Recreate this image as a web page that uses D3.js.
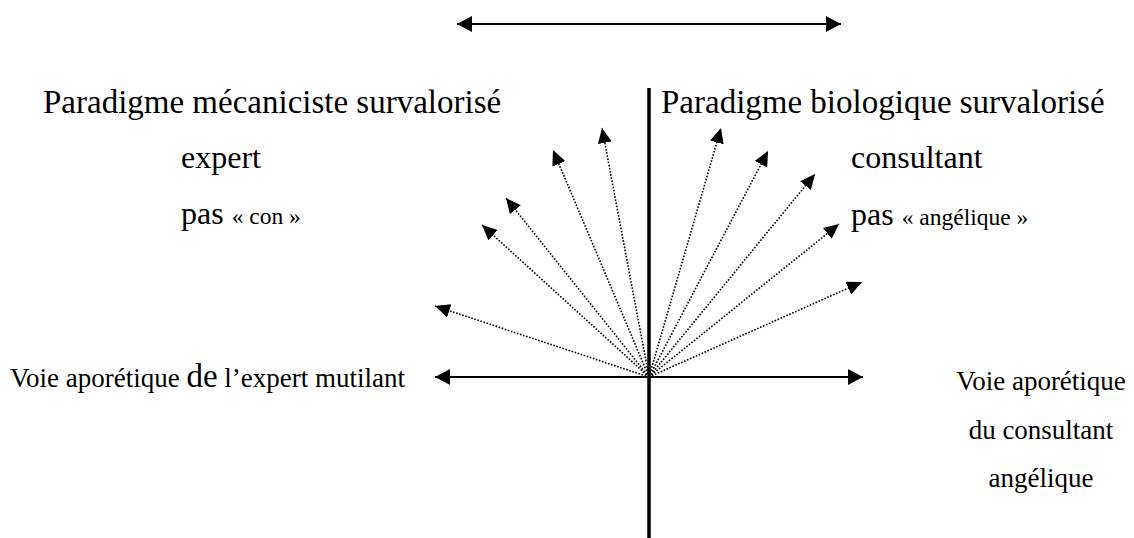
<!DOCTYPE html>
<html>
<head>
<meta charset="utf-8">
<script src="https://cdn.jsdelivr.net/npm/d3@7"></script>
<style>
  html, body { margin: 0; padding: 0; background: #fff; }
  svg { display: block; }
  text { font-family: "Liberation Serif", "Times New Roman", serif; fill: #000; }
</style>
</head>
<body>
<svg id="chart" width="1134" height="538"></svg>
<script>
// ---- data (offsets from the origin, in diagram units) ----
const leftArrowX  = [-214, -167, -143, -96, -47];
const leftArrowY  = [71, 152, 179, 227, 249];
const rightArrowX = [72, 119, 166, 190, 213];
const rightArrowY = [249, 226, 203, 153, 95];

const axisX = [-214, 214];          // horizontal axis ends
const axisYTop = 289;               // vertical axis top
const axisYBottom = -161;           // vertical axis bottom
const topArrowX = [-192, 192];      // top double arrow
const topArrowY = 353;

const titleLeft  = "Paradigme mécaniciste survalorisé";
const titleRight = "Paradigme biologique survalorisé";
const subLeft    = ["expert", "pas", "« con »"];
const subRight   = ["consultant", "pas", "« angélique »"];
const bottomLeft = ["Voie aporétique ", "de", " l’expert mutilant"];
const bottomRight = ["Voie aporétique", "du consultant", "angélique"];

// ---- scales ----
const x = d3.scaleLinear().domain([-214, 214]).range([435, 863]);
const y = d3.scaleLinear().domain([0, 377]).range([377, 0]);

const svg = d3.select("#chart");
const defs = svg.append("defs");

function marker(id, len, half) {
  defs.append("marker")
    .attr("id", id)
    .attr("markerUnits", "userSpaceOnUse")
    .attr("viewBox", `0 ${-half} ${len} ${2 * half}`)
    .attr("refX", len).attr("refY", 0)
    .attr("markerWidth", len).attr("markerHeight", 2 * half)
    .attr("orient", "auto-start-reverse")
    .append("path")
    .attr("d", `M0,${-half}L${len},0L0,${half}Z`)
    .attr("fill", "#000");
}
marker("headMain", 15, 8);
marker("headDot", 15, 7);

// top double arrow
svg.append("line")
  .attr("x1", x(topArrowX[0])).attr("x2", x(topArrowX[1]))
  .attr("y1", y(topArrowY)).attr("y2", y(topArrowY))
  .attr("stroke", "#000").attr("stroke-width", 2.2)
  .attr("marker-start", "url(#headMain)")
  .attr("marker-end", "url(#headMain)");

// fan of dotted arrows
const fan = leftArrowX.map((d, i) => ({dx: d, dy: leftArrowY[i]}))
  .concat(rightArrowX.map((d, i) => ({dx: d, dy: rightArrowY[i]})));
svg.append("g").selectAll("line").data(fan).join("line")
  .attr("x1", x(0)).attr("y1", y(0))
  .attr("x2", d => x(d.dx)).attr("y2", d => y(d.dy))
  .attr("stroke", "#000").attr("stroke-width", 1.6)
  .attr("stroke-dasharray", "1.6,1.6")
  .attr("marker-end", "url(#headDot)");

// horizontal axis (two arrows from origin)
svg.append("line")
  .attr("x1", x(0)).attr("x2", x(axisX[0]))
  .attr("y1", y(0)).attr("y2", y(0))
  .attr("stroke", "#000").attr("stroke-width", 2)
  .attr("marker-end", "url(#headMain)");
svg.append("line")
  .attr("x1", x(0)).attr("x2", x(axisX[1]))
  .attr("y1", y(0)).attr("y2", y(0))
  .attr("stroke", "#000").attr("stroke-width", 2)
  .attr("marker-end", "url(#headMain)");

// vertical thick line
svg.append("line")
  .attr("x1", x(0)).attr("x2", x(0))
  .attr("y1", y(axisYTop)).attr("y2", y(axisYBottom))
  .attr("stroke", "#000").attr("stroke-width", 3.5);

// ---- texts ----
svg.append("text").attr("x", 43).attr("y", 113)
  .style("font-size", "33px").text(titleLeft);
svg.append("text").attr("x", 661).attr("y", 113)
  .style("font-size", "33px").text(titleRight);

svg.append("text").attr("x", 181).attr("y", 168)
  .style("font-size", "32px").text(subLeft[0]);
const tl = svg.append("text").attr("x", 181).attr("y", 224).style("font-size", "32px");
tl.append("tspan").text(subLeft[1] + " ");
tl.append("tspan").style("font-size", "23.5px").text(subLeft[2]);

svg.append("text").attr("x", 851).attr("y", 168)
  .style("font-size", "32px").text(subRight[0]);
const tr = svg.append("text").attr("x", 851).attr("y", 225).style("font-size", "32px");
tr.append("tspan").text(subRight[1] + " ");
tr.append("tspan").style("font-size", "23.5px").text(subRight[2]);

const bl = svg.append("text").attr("x", 10).attr("y", 387).style("font-size", "27px");
bl.append("tspan").text(bottomLeft[0]);
bl.append("tspan").style("font-size", "33px").text(bottomLeft[1]);
bl.append("tspan").text(bottomLeft[2]);

svg.append("g").selectAll("text").data(bottomRight).join("text")
  .attr("x", 1041).attr("y", (d, i) => 390 + i * 48.5)
  .attr("text-anchor", "middle")
  .style("font-size", "27px")
  .text(d => d);
</script>
</body>
</html>
